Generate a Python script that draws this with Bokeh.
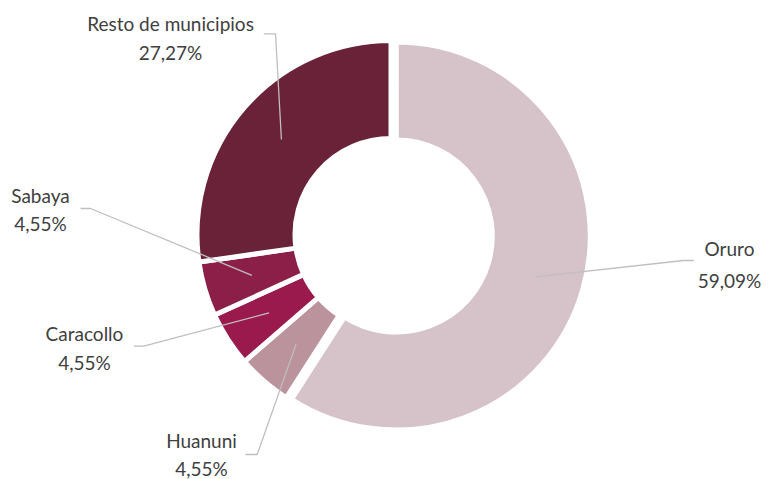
import numpy as np
from bokeh.plotting import figure
from bokeh.models import Range1d, ColumnDataSource
from bokeh.core.properties import value
from bokeh.embed import file_html
from bokeh.resources import INLINE

# ---- data ----
categories = ["Oruro", "Huanuni", "Caracollo", "Sabaya", "Resto de municipios"]
shares = [59.09, 4.55, 4.55, 4.55, 27.27]
pct_labels = ["59,09%", "4,55%", "4,55%", "4,55%", "27,27%"]

# ---- style / layout ----
colors = ["#D5C3C9", "#BA939C", "#9B1A4E", "#8B1F48", "#6A2239"]
explode = np.array([5.5, 0, 0, 0, 0])
W, H = 768, 479


def Y(py):
    # page y (pixels from top) -> data y
    return H - py


cx, cy = 390.5, Y(234)
R_OUT, R_IN = 194, 96
R_MID = (R_OUT + R_IN) / 2

# label centre (page coords) and leader elbow/end points (page coords)
label_x = [729, 201, 84, 40, 170]
label_y1 = [248, 440, 332.5, 195, 22.7]
label_y2 = [280, 467.5, 361.5, 223, 51.7]
elbow = [(683, 260), (256.7, 454), (143.3, 345.7), (90, 208), (275, 33.3)]
lend = [(693.3, 260), (245, 454), (133.3, 345.7), (80, 208), (263.3, 33.3)]

# ---- geometry from data ----
fr = np.array(shares) / np.sum(shares)
cum_end = np.cumsum(fr)
cum_start = cum_end - fr
start_ang = np.pi / 2 - 2 * np.pi * cum_start
end_ang = np.pi / 2 - 2 * np.pi * cum_end
mid_ang = (start_ang + end_ang) / 2
xs_c = cx + explode * np.cos(mid_ang)
ys_c = cy + explode * np.sin(mid_ang)

src = ColumnDataSource(dict(x=xs_c, y=ys_c, start=start_ang, end=end_ang,
                            color=colors, cat=categories))

p = figure(width=W, height=H, x_range=Range1d(0, W), y_range=Range1d(0, H),
           output_backend="svg", toolbar_location=None, min_border=0,
           x_axis_location=None, y_axis_location=None)
p.grid.visible = False
p.outline_line_color = None
p.background_fill_color = "white"

p.annular_wedge(x="x", y="y", inner_radius=R_IN, outer_radius=R_OUT,
                start_angle="start", end_angle="end", direction="clock",
                fill_color="color", line_color="white", line_width=5,
                source=src)

# leader lines
ax = xs_c + R_MID * np.cos(mid_ang)
ay = ys_c + R_MID * np.sin(mid_ang)
line_xs, line_ys = [], []
for i in range(len(categories)):
    line_xs.append([ax[i], elbow[i][0], lend[i][0]])
    line_ys.append([ay[i], Y(elbow[i][1]), Y(lend[i][1])])
p.multi_line(xs=line_xs, ys=line_ys, line_color="#BFBFBF", line_width=1.3)

# labels
txt = dict(text_align="center", text_baseline="middle",
           text_font=value("Lato"), text_font_size=value("19px"),
           text_color="#404040")
p.text(x=label_x, y=[Y(v) for v in label_y1], text=categories, **txt)
p.text(x=label_x, y=[Y(v) for v in label_y2], text=pct_labels, **txt)

open("out.html", "w").write(file_html(p, INLINE))
